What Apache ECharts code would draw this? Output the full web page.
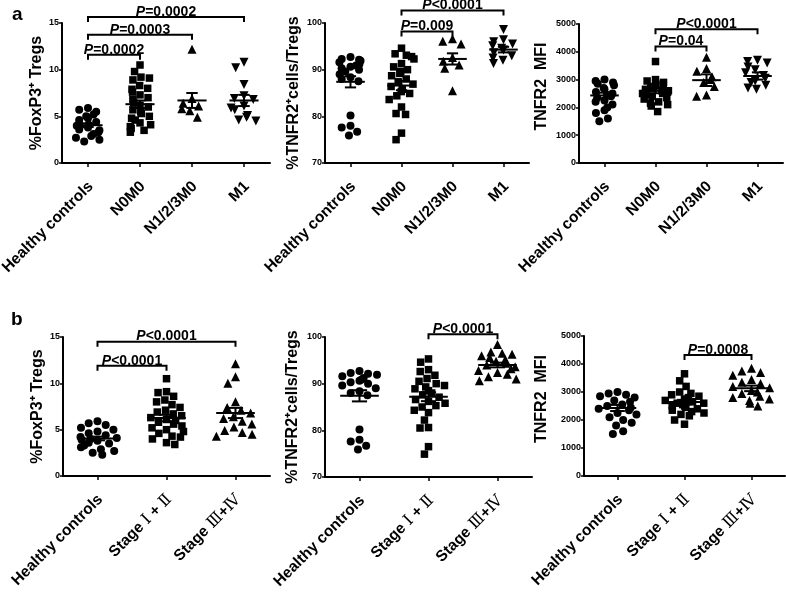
<!DOCTYPE html>
<html><head><meta charset="utf-8">
<script src="https://cdn.jsdelivr.net/npm/echarts@6/dist/echarts.min.js"></script>
<style>html,body{margin:0;padding:0;background:#fff}#c{width:786px;height:593px}</style>
</head><body><div id="c"></div><script>
// ---------- categories ----------
const catsA = ['Healthy controls', 'N0M0', 'N1/2/3M0', 'M1'];
const catsB = ['Healthy controls', 'Stage Ⅰ + Ⅱ', 'Stage Ⅲ+Ⅳ'];

// ---------- %FoxP3+ Tregs ----------
const foxHC      = [5.9, 5.7, 5.5, 5.2, 5.0, 4.8, 4.6, 4.4, 4.2, 4.1, 4.0, 3.9, 3.8, 3.6, 3.5, 3.3, 3.1, 2.9, 2.7, 2.5, 2.3];
const foxN0M0    = [10.5, 9.8, 9.2, 9.1, 8.9, 8.3, 8.0, 7.9, 7.6, 7.3, 7.0, 6.8, 6.5, 6.2, 6.0, 5.7, 5.5, 5.3, 5.0, 4.8, 4.6, 4.3, 4.1, 3.9, 3.7, 3.5, 3.3];
const foxN123M0  = [12.2, 6.9, 6.4, 6.1, 5.8, 5.6, 4.9];
const foxM1      = [10.8, 10.2, 8.4, 7.2, 6.9, 6.8, 6.1, 5.9, 5.7, 5.1, 4.9, 4.6, 4.5];
const foxStage12 = [10.5, 9.1, 9.0, 8.6, 8.2, 8.0, 7.7, 7.4, 7.1, 6.9, 6.7, 6.5, 6.3, 6.1, 6.0, 5.8, 5.6, 5.4, 5.2, 5.0, 4.8, 4.6, 4.3, 4.2, 4.0, 3.6, 3.4];
const foxStage34 = [12.1, 10.7, 10.0, 8.0, 7.4, 7.1, 6.8, 6.4, 6.2, 5.9, 5.6, 5.3, 4.9, 4.7, 4.5, 4.3];

// ---------- %TNFR2+ cells/Tregs ----------
const tnfHC      = [92.7, 92.3, 92.1, 91.9, 91.6, 91.2, 90.9, 90.6, 90.3, 90.0, 89.6, 89.0, 88.4, 88.0, 87.5, 80.2, 78.0, 77.6, 76.7, 75.9];
const tnfN0M0    = [94.6, 93.4, 93.1, 92.8, 92.3, 91.3, 90.6, 90.0, 89.6, 89.2, 88.7, 88.0, 87.4, 86.9, 86.4, 85.8, 85.3, 84.9, 84.4, 83.6, 82.0, 80.6, 80.4, 76.4, 75.0];
const tnfN123M0  = [96.6, 96.1, 95.5, 92.6, 91.8, 91.0, 90.3, 85.5];
const tnfM1      = [98.6, 96.4, 96.0, 95.5, 95.1, 94.6, 94.2, 93.6, 93.0, 92.5, 92.0, 91.3];
const tnfStage12 = [95.3, 94.6, 93.0, 92.6, 91.8, 91.1, 90.5, 90.0, 89.6, 89.3, 88.9, 88.5, 88.0, 87.6, 87.1, 86.6, 86.2, 85.8, 85.3, 85.0, 84.3, 83.8, 82.2, 80.6, 80.5, 76.5, 74.9];
const tnfStage34 = [98.4, 96.8, 96.5, 96.3, 96.0, 95.6, 95.2, 94.8, 94.4, 94.0, 93.6, 93.2, 92.8, 92.4, 92.0, 91.5, 91.0, 90.6];

// ---------- TNFR2 MFI ----------
const mfiHC      = [3000, 2950, 2900, 2850, 2800, 2700, 2650, 2550, 2500, 2450, 2400, 2350, 2250, 2200, 2100, 2000, 1900, 1800, 1600, 1500];
const mfiN0M0    = [3650, 3000, 2950, 2900, 2850, 2800, 2750, 2700, 2700, 2650, 2600, 2600, 2550, 2500, 2500, 2450, 2400, 2350, 2300, 2200, 2150, 2100, 2050, 1850];
const mfiN123M0  = [3800, 3400, 3300, 3100, 3000, 2900, 2750, 2450, 2400];
const mfiM1      = [3700, 3650, 3600, 3450, 3350, 3250, 3150, 3050, 2950, 2900, 2800, 2700, 2650];
const mfiStage12 = [3650, 3400, 3200, 3000, 2950, 2900, 2850, 2800, 2750, 2700, 2700, 2650, 2600, 2600, 2550, 2500, 2500, 2450, 2400, 2350, 2300, 2250, 2200, 2150, 2000, 1850];
const mfiStage34 = [3850, 3750, 3700, 3600, 3450, 3350, 3300, 3200, 3150, 3050, 3000, 2950, 2850, 2800, 2750, 2700, 2600, 2500];

// ---------- mean / SEM ----------
const meanA1 = [4.05, 6.3, 6.7, 6.7],      semA1 = [0.2, 0.4, 0.8, 0.6];
const meanA2 = [87.4, 86.6, 92.3, 94.3],   semA2 = [1.2, 1.0, 1.2, 0.6];
const meanA3 = [2430, 2600, 2980, 3130],   semA3 = [100, 90, 210, 130];
const meanB1 = [4.05, 6.25, 6.8],          semB1 = [0.2, 0.35, 0.55];
const meanB2 = [87.4, 87.2, 94.0],         semB2 = [1.2, 0.95, 0.5];
const meanB3 = [2430, 2640, 3130],         semB3 = [110, 80, 100];

// ---------- significance brackets: [fromCat, toCat, yValue], labels ----------
const brA1 = [[0, 1, 11.6], [0, 2, 13.75], [0, 3, 15.65]], brA1Lab = ['=0.0002', '=0.0003', '=0.0002'];
const brA2 = [[1, 2, 98.2], [1, 3, 102.7]],                brA2Lab = ['=0.009', '<0.0001'];
const brA3 = [[1, 2, 4190], [1, 3, 4810]],                 brA3Lab = ['=0.04', '<0.0001'];
const brB1 = [[0, 1, 11.9], [0, 2, 14.5]],                 brB1Lab = ['<0.0001', '<0.0001'];
const brB2 = [[1, 2, 100.6]],                              brB2Lab = ['<0.0001'];
const brB3 = [[1, 2, 4320]],                               brB3Lab = ['=0.0008'];

// ---------- build ----------
const FONT = '"Liberation Sans", Arial, sans-serif';
const symbols = [
  {symbol: 'circle', size: 8, rot: 0},
  {symbol: 'rect', size: 7.5, rot: 0},
  {symbol: 'triangle', size: 9, rot: 0},
  {symbol: 'triangle', size: 9, rot: 180}
];
function richLabel(v) {
  return v.split(/([ⅠⅡⅢⅣ]+)/).filter(s => s).map(s => /[ⅠⅡⅢⅣ]/.test(s) ? '{r|' + s + '}' : '{b|' + s + '}').join('');
}

const panels = [
  {grid: {left: 62, top: 23, width: 208, height: 140}, cats: catsA, groups: [foxHC, foxN0M0, foxN123M0, foxM1],
   min: 0, max: 15, interval: 5, name: '%FoxP3⁺ Tregs', nameGap: 16, namePad: 0, mean: meanA1, sem: semA1, br: brA1, brLab: brA1Lab, jitter: 26, symIdx: [0,1,2,3]},
  {grid: {left: 325, top: 23, width: 204, height: 140}, cats: catsA, groups: [tnfHC, tnfN0M0, tnfN123M0, tnfM1],
   min: 70, max: 100, interval: 10, name: '%TNFR2⁺cells/Tregs', nameGap: 23, namePad: 0, mean: meanA2, sem: semA2, br: brA2, brLab: brA2Lab, jitter: 26, symIdx: [0,1,2,3]},
  {grid: {left: 579, top: 24, width: 204, height: 139}, cats: catsA, groups: [mfiHC, mfiN0M0, mfiN123M0, mfiM1],
   min: 0, max: 5000, interval: 1000, name: 'TNFR2  MFI', nameGap: 29, namePad: 14, mean: meanA3, sem: semA3, br: brA3, brLab: brA3Lab, jitter: 26, symIdx: [0,1,2,3]},
  {grid: {left: 63, top: 337, width: 207, height: 139}, cats: catsB, groups: [foxHC, foxStage12, foxStage34],
   min: 0, max: 15, interval: 5, name: '%FoxP3⁺ Tregs', nameGap: 17, namePad: 0, mean: meanB1, sem: semB1, br: brB1, brLab: brB1Lab, jitter: 40, symIdx: [0,1,2]},
  {grid: {left: 325, top: 337, width: 207, height: 140}, cats: catsB, groups: [tnfHC, tnfStage12, tnfStage34],
   min: 70, max: 100, interval: 10, name: '%TNFR2⁺cells/Tregs', nameGap: 24, namePad: 0, mean: meanB2, sem: semB2, br: brB2, brLab: brB2Lab, jitter: 40, symIdx: [0,1,2]},
  {grid: {left: 584, top: 336, width: 201, height: 140}, cats: catsB, groups: [mfiHC, mfiStage12, mfiStage34],
   min: 0, max: 5000, interval: 1000, name: 'TNFR2  MFI', nameGap: 34, namePad: 14, mean: meanB3, sem: semB3, br: brB3, brLab: brB3Lab, jitter: 40, symIdx: [0,1,2]}
];

const grid = [], xAxis = [], yAxis = [], series = [];
panels.forEach((p, i) => {
  grid.push(Object.assign({outerBoundsMode: 'none', containLabel: false}, p.grid));
  xAxis.push({
    type: 'category', gridIndex: i, data: p.cats,
    jitter: p.jitter, jitterOverlap: false, jitterMargin: 1,
    axisLine: {show: true, lineStyle: {color: '#000', width: 2}},
    axisTick: {show: true, alignWithLabel: true, length: 4, lineStyle: {color: '#000', width: 1.5}},
    axisLabel: {
      rotate: 45, margin: 24, interval: 0, color: '#000', padding: [0, -4, 0, 0],
      formatter: richLabel,
      rich: {
        b: {fontFamily: FONT, fontWeight: 'bold', fontSize: 15.5, color: '#000'},
        r: {fontFamily: '"DejaVu Serif", "Liberation Serif", serif', fontWeight: 'normal', fontSize: 16, color: '#000'}
      }
    },
    splitLine: {show: false}
  });
  yAxis.push({
    type: 'value', gridIndex: i, min: p.min, max: p.max, interval: p.interval,
    name: p.name, nameLocation: 'middle', nameGap: p.nameGap, nameRotate: 90,
    nameTextStyle: {fontFamily: FONT, fontWeight: 'bold', fontSize: 16, color: '#000', padding: [0, 0, 0, p.namePad]},
    axisLine: {show: true, lineStyle: {color: '#000', width: 2}},
    axisTick: {show: true, length: 3, lineStyle: {color: '#000', width: 1.5}},
    axisLabel: {fontFamily: FONT, fontWeight: 'bold', fontSize: 9, color: '#000', margin: 3, formatter: v => String(v)},
    splitLine: {show: false}
  });
  p.groups.forEach((g, gi) => {
    const s = symbols[p.symIdx[gi]];
    series.push({
      type: 'scatter', xAxisIndex: i, yAxisIndex: i,
      symbol: s.symbol, symbolSize: s.size, symbolRotate: s.rot,
      itemStyle: {color: '#000', opacity: 1},
      clip: false, silent: true, z: 2,
      data: g.map(v => [gi, v])
    });
  });
  // mean ± SEM
  series.push({
    type: 'custom', xAxisIndex: i, yAxisIndex: i, z: 5, silent: true, clip: false,
    encode: {x: 0, y: 1},
    data: p.mean.map((m, k) => [k, m, p.sem[k]]),
    renderItem(params, api) {
      const c = api.value(0), m = api.value(1), se = api.value(2);
      const pm = api.coord([c, m]);
      const pt = api.coord([c, m + se]);
      const pb = api.coord([c, m - se]);
      const band = api.size([1, 0])[0];
      const hw = band * 0.28, cw = band * 0.11;
      const st = {stroke: '#000', lineWidth: 2};
      return {type: 'group', children: [
        {type: 'line', shape: {x1: pm[0] - hw, y1: pm[1], x2: pm[0] + hw, y2: pm[1]}, style: st},
        {type: 'line', shape: {x1: pm[0], y1: pt[1], x2: pm[0], y2: pb[1]}, style: st},
        {type: 'line', shape: {x1: pm[0] - cw, y1: pt[1], x2: pm[0] + cw, y2: pt[1]}, style: st},
        {type: 'line', shape: {x1: pm[0] - cw, y1: pb[1], x2: pm[0] + cw, y2: pb[1]}, style: st}
      ]};
    }
  });
  // brackets
  const labs = p.brLab;
  series.push({
    type: 'custom', xAxisIndex: i, yAxisIndex: i, z: 6, silent: true, clip: false,
    encode: {x: [0, 1], y: 2},
    data: p.br,
    renderItem(params, api) {
      const p1 = api.coord([api.value(0), api.value(2)]);
      const p2 = api.coord([api.value(1), api.value(2)]);
      const leg = 5;
      return {type: 'group', children: [
        {type: 'polyline', shape: {points: [[p1[0], p1[1] + leg], [p1[0], p1[1]], [p2[0], p2[1]], [p2[0], p2[1] + leg]]},
         style: {stroke: '#000', lineWidth: 2, fill: null}},
        {type: 'text', x: (p1[0] + p2[0]) / 2, y: p1[1] + 2,
         style: {text: '{i|P}{n|' + labs[params.dataIndex] + '}', align: 'center', verticalAlign: 'bottom',
           rich: {
             i: {fontFamily: FONT, fontStyle: 'italic', fontWeight: 'bold', fontSize: 14, fill: '#000', color: '#000'},
             n: {fontFamily: FONT, fontWeight: 'bold', fontSize: 14, fill: '#000', color: '#000'}
           }}}
      ]};
    }
  });
});

const chart = echarts.init(document.getElementById('c'), null, {renderer: 'canvas'});
chart.setOption({
  animation: false,
  backgroundColor: '#fff',
  grid, xAxis, yAxis, series,
  graphic: [
    {type: 'text', left: 12, top: 5, style: {text: 'a', font: 'bold 19px ' + FONT, fill: '#000'}},
    {type: 'text', left: 11, top: 310, style: {text: 'b', font: 'bold 19px ' + FONT, fill: '#000'}}
  ]
});
</script></body></html>
